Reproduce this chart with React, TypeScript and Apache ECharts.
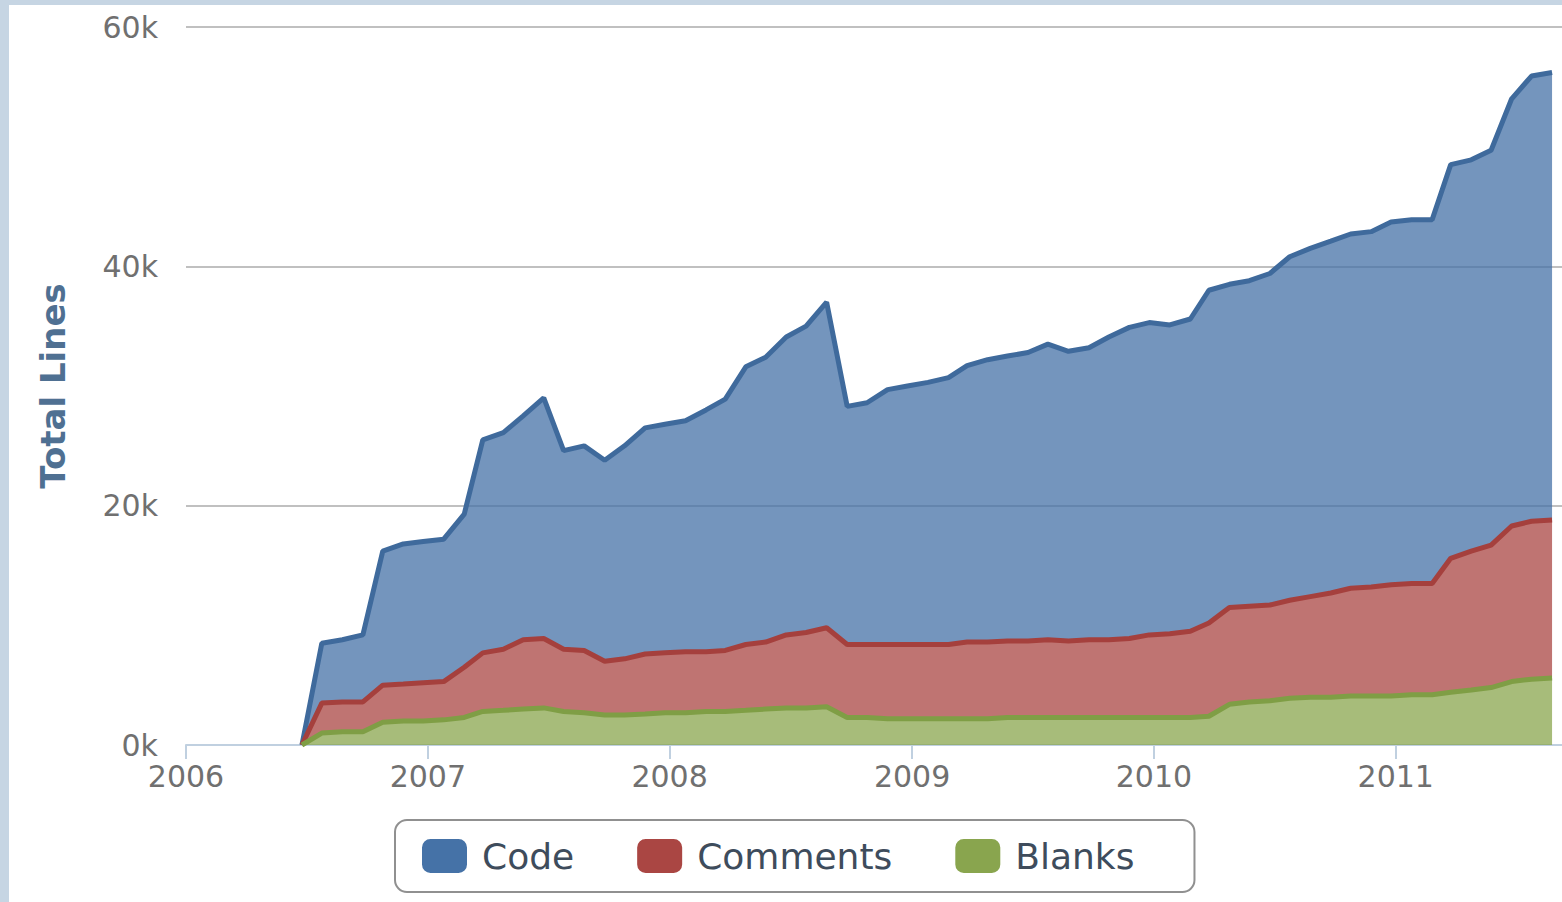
import React, { useEffect, useRef } from "react";
import * as echarts from "echarts";

const dates = [
  "2006-06-25", "2006-07-25", "2006-08-25", "2006-09-25", "2006-10-25", "2006-11-25", "2006-12-25",
  "2007-01-25", "2007-02-25", "2007-03-25", "2007-04-25", "2007-05-25", "2007-06-25",
  "2007-07-25", "2007-08-25", "2007-09-25", "2007-10-25", "2007-11-25", "2007-12-25",
  "2008-01-25", "2008-02-25", "2008-03-25", "2008-04-25", "2008-05-25", "2008-06-25",
  "2008-07-25", "2008-08-25", "2008-09-25", "2008-10-25", "2008-11-25", "2008-12-25",
  "2009-01-25", "2009-02-25", "2009-03-25", "2009-04-25", "2009-05-25", "2009-06-25",
  "2009-07-25", "2009-08-25", "2009-09-25", "2009-10-25", "2009-11-25", "2009-12-25",
  "2010-01-25", "2010-02-25", "2010-03-25", "2010-04-25", "2010-05-25", "2010-06-25",
  "2010-07-25", "2010-08-25", "2010-09-25", "2010-10-25", "2010-11-25", "2010-12-25",
  "2011-01-25", "2011-02-25", "2011-03-25", "2011-04-25", "2011-05-25", "2011-06-25",
  "2011-07-25", "2011-08-25",
];

const blanks = [
  0, 1000, 1100, 1100, 1900, 2000, 2000,
  2100, 2300, 2800, 2900, 3000, 3100, 2800, 2700, 2500, 2500, 2600, 2700,
  2700, 2800, 2800, 2900, 3000, 3100, 3100, 3200, 2300, 2300, 2200, 2200,
  2200, 2200, 2200, 2200, 2300, 2300, 2300, 2300, 2300, 2300, 2300, 2300,
  2300, 2300, 2400, 3400, 3600, 3700, 3900, 4000, 4000, 4100, 4100, 4100,
  4200, 4200, 4400, 4600, 4800, 5300, 5500, 5600,
];

const comments = [
  0, 2500, 2500, 2500, 3100, 3100, 3200,
  3200, 4200, 4900, 5100, 5800, 5800, 5200, 5200, 4500, 4700, 5000, 5000,
  5100, 5000, 5100, 5500, 5600, 6100, 6300, 6600, 6100, 6100, 6200, 6200,
  6200, 6200, 6400, 6400, 6400, 6400, 6500, 6400, 6500, 6500, 6600, 6900,
  7000, 7200, 7800, 8100, 8000, 8000, 8200, 8400, 8700, 9000, 9100, 9300,
  9300, 9300, 11200, 11600, 11900, 13000, 13200, 13200,
];

const code = [
  0, 5000, 5200, 5600, 11200, 11700, 11800,
  11900, 12800, 17800, 18100, 18700, 20100, 16600, 17100, 16800, 17800, 18900, 19100,
  19300, 20200, 21000, 23200, 23800, 24900, 25600, 27200, 19900, 20200, 21300, 21600,
  21900, 22300, 23100, 23600, 23800, 24100, 24700, 24200, 24400, 25300, 26000, 26100,
  25800, 26100, 27800, 27000, 27200, 27700, 28700, 29100, 29400, 29600, 29700, 30300,
  30400, 30400, 32900, 32700, 33000, 35700, 37200, 37400,
];

const legendNames = ["Code", "Comments", "Blanks"];
const yTicks = [0, 20000, 40000, 60000];

const FONT = "DejaVu Sans";

function makeSeries(name: string, values: number[], lineColor: string, fill: string, z: number) {
  return {
    name,
    type: "line",
    stack: "total",
    z,
    showSymbol: false,
    symbol: "none",
    data: dates.map((d, i) => [d, values[i]]),
    lineStyle: { width: 5, color: lineColor },
    itemStyle: { color: fill },
    areaStyle: { color: fill, opacity: 0.75 },
  };
}

export default function App() {
  const ref = useRef<HTMLDivElement>(null);

  useEffect(() => {
    if (!ref.current) return;
    const chart = echarts.init(ref.current, undefined, { renderer: "svg" });
    chart.setOption({
      animation: false,
      backgroundColor: "#ffffff",
      textStyle: { fontFamily: FONT },
      graphic: [
        { type: "rect", silent: true, shape: { x: 0, y: 0, width: 9, height: 902 }, style: { fill: "#c6d5e3" } },
        { type: "rect", silent: true, shape: { x: 0, y: 0, width: 1562, height: 5 }, style: { fill: "#c6d5e3" } },
      ],
      grid: { left: 186, right: 0, top: 27, bottom: 157 },
      legend: {
        data: legendNames,
        left: 395,
        top: 820,
        orient: "horizontal",
        icon: "roundRect",
        itemWidth: 45,
        itemHeight: 34,
        itemGap: 63,
        padding: [18, 60, 18, 27],
        borderColor: "#909090",
        borderWidth: 2,
        borderRadius: 12,
        textStyle: { fontSize: 36, color: "#3e4c5c", fontFamily: FONT, padding: [0, 0, 0, 10] },
      },
      xAxis: {
        type: "time",
        min: "2006-01-01",
        max: "2011-09-09",
        splitNumber: 6,
        axisLine: { lineStyle: { color: "#c0d0e0", width: 2 } },
        axisTick: { show: true, length: 14, lineStyle: { color: "#c0d0e0", width: 2 } },
        axisLabel: { formatter: "{yyyy}", fontSize: 30, color: "#707070", margin: 16, fontFamily: FONT },
        splitLine: { show: false },
      },
      yAxis: {
        type: "value",
        min: yTicks[0],
        max: yTicks[yTicks.length - 1],
        interval: yTicks[1] - yTicks[0],
        name: "Total Lines",
        nameLocation: "middle",
        nameGap: 116,
        nameRotate: 90,
        nameTextStyle: { fontSize: 34, fontWeight: "bold", color: "#4f7092", fontFamily: FONT },
        axisLine: { show: false },
        axisTick: { show: false },
        axisLabel: {
          formatter: (v: number) => v / 1000 + "k",
          fontSize: 30,
          color: "#707070",
          margin: 28,
          fontFamily: FONT,
        },
        splitLine: { lineStyle: { color: "#c0c0c0", width: 2 } },
      },
      series: [
        makeSeries("Blanks", blanks, "#7f9e45", "#89a54e", 4),
        makeSeries("Comments", comments, "#a5403d", "#aa4643", 3),
        makeSeries("Code", code, "#3f6a9c", "#4572a7", 2),
      ],
    });
    return () => chart.dispose();
  }, []);

  return (
    <div
      ref={ref}
      style={{ position: "absolute", left: 0, top: 0, width: 1562, height: 902 }}
    />
  );
}
